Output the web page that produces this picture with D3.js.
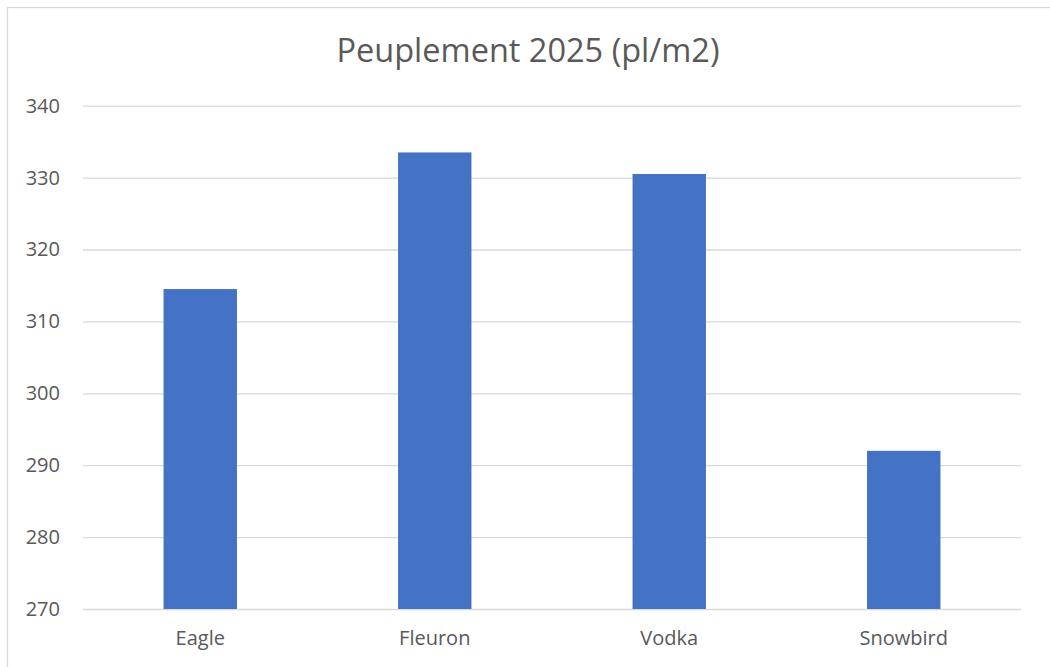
<!DOCTYPE html>
<html>
<head>
<meta charset="utf-8">
<script src="https://cdn.jsdelivr.net/npm/d3@7"></script>
<style>
  body { margin: 0; background: #fff; }
  svg { display: block; font-family: "Open Sans", "Noto Sans", sans-serif; }
</style>
</head>
<body>
<script>
// data
var title = "Peuplement 2025 (pl/m2)";
var varieties = ["Eagle", "Fleuron", "Vodka", "Snowbird"];
var density = [314.5, 333.5, 330.5, 292];
var yTicks = [270, 280, 290, 300, 310, 320, 330, 340];

var width = 1050, height = 667;
var margin = {top: 105.7, right: 29, bottom: 58, left: 83};
var font = '"Open Sans", "Noto Sans", sans-serif';

var svg = d3.select("body").append("svg")
    .attr("width", width)
    .attr("height", height);

// chart frame (runs off the right and bottom of the picture)
svg.append("rect")
    .attr("x", 7.5).attr("y", 7.5)
    .attr("width", width + 10).attr("height", height + 10)
    .attr("fill", "#fff")
    .attr("stroke", "#d9d9d9")
    .attr("stroke-width", 1.3);

var x = d3.scaleBand()
    .domain(varieties)
    .range([margin.left, width - margin.right])
    .paddingInner(0.687)
    .paddingOuter(0.3435);

var y = d3.scaleLinear()
    .domain([270, 340])
    .range([height - margin.bottom, margin.top]);

// gridlines + y labels
var yAxis = svg.append("g")
    .attr("transform", "translate(" + margin.left + ",0)")
    .call(d3.axisLeft(y)
      .tickValues(yTicks)
      .tickSize(-(width - margin.left - margin.right))
      .tickPadding(23)
      .tickFormat(d3.format("d")))
    .attr("font-family", font);
yAxis.select(".domain").remove();
yAxis.selectAll(".tick line")
    .attr("stroke", "#d9d9d9")
    .attr("stroke-width", 1.3);
yAxis.selectAll(".tick text")
    .attr("fill", "#595959")
    .style("font-size", "20px");

// bars
svg.selectAll(".bar")
    .data(varieties)
  .enter().append("rect")
    .attr("class", "bar")
    .attr("x", function(d) { return x(d); })
    .attr("width", x.bandwidth())
    .attr("y", function(d, i) { return y(density[i]); })
    .attr("height", function(d, i) { return y(270) - y(density[i]); })
    .attr("fill", "#4472c4");

// x labels
var xAxis = svg.append("g")
    .attr("transform", "translate(0," + (height - margin.bottom) + ")")
    .call(d3.axisBottom(x).tickSize(0).tickPadding(22))
    .attr("font-family", font);
xAxis.select(".domain").remove();
xAxis.selectAll(".tick text")
    .attr("fill", "#595959")
    .style("font-size", "20px");

// title
svg.append("text")
    .attr("x", 528)
    .attr("y", 62)
    .attr("text-anchor", "middle")
    .attr("fill", "#595959")
    .style("font-size", "32.5px")
    .text(title);
</script>
</body>
</html>
